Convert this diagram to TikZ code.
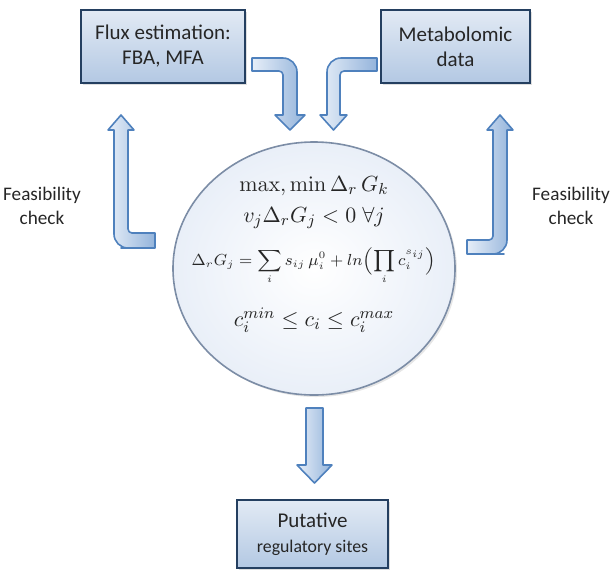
\documentclass[tikz,border=0pt]{standalone}
\usepackage[no-math]{fontspec}
\setmainfont{Carlito}
\usepackage{amsmath}
\usetikzlibrary{shapes.geometric, shadows, positioning}

\definecolor{boxedge}{HTML}{243F60}
\definecolor{boxtop}{HTML}{E2EAF4}
\definecolor{boxbot}{HTML}{B3C8E3}
\definecolor{arrowedge}{HTML}{4F81BD}
\definecolor{arrowlight}{HTML}{E6EEF8}
\definecolor{arrowdark}{HTML}{94B4DB}
\definecolor{cellrim}{HTML}{7C8DA6}
\definecolor{cellfill}{HTML}{E9EFF8}

\begin{document}
\begin{tikzpicture}[
    % one unit = one pixel of the sketch, y running down
    x=0.5pt, y=-0.5pt,
    source/.style={
        rectangle, draw=boxedge, line width=1.3pt,
        top color=boxtop, bottom color=boxbot,
        inner sep=2pt, align=center, text=black!85,
        drop shadow={opacity=0.25, shadow xshift=1pt, shadow yshift=-1pt},
        font=\fontsize{10.5}{12.5}\selectfont
    },
    fatarrow/.style={draw=arrowedge, line width=0.8pt, line join=round,
        left color=arrowlight, right color=arrowdark},
    eq/.style={inner sep=0pt, text=black!85},
    note/.style={align=center, text=black!85, font=\fontsize{9.6}{12}\selectfont}
]
  \useasboundingbox (0,0) rectangle (613,574);

  % Inputs
  \node[source, minimum width=82pt, minimum height=36.5pt] (flux) at (163,46.5) {Flux estimation:\\FBA, MFA};
  \node[source, minimum width=74.5pt, minimum height=36.5pt] (metab) at (455.5,46.5) {Metabolomic\\data};

  % Thermodynamic model
  \node[ellipse, draw=cellrim, line width=0.8pt, inner color=white, outer color=cellfill,
        minimum width=141pt, minimum height=126.5pt,
        drop shadow={opacity=0.2, shadow xshift=1pt, shadow yshift=-1pt}] (cell) at (314,268.5) {};
  \node[eq, font=\fontsize{11}{13}\selectfont] (obj) at (314,186) {$\max,\min\Delta_r\,G_k$};
  \node[eq, font=\fontsize{11}{13}\selectfont] (sign) at (314,218) {$v_j\Delta_rG_j<0\;\forall j$};
  \node[eq, font=\fontsize{7.6}{9}\selectfont] (gibbs) at (314,266) {$\displaystyle \Delta_rG_j=\sum_i s_{ij}\,\mu_i^0+ln\Bigl(\prod_i c_i^{s_{ij}}\Bigr)$};
  \node[eq, font=\fontsize{11}{13}\selectfont] (bounds) at (314,320) {$c_i^{min}\le c_i\le c_i^{max}$};

  % Output
  \node[source, minimum width=75.5pt, minimum height=34pt] (sites) at (312.5,534) {Putative\\{\fontsize{8.9}{11}\selectfont regulatory sites}};

  % Feasibility labels
  \node[note] (checkl) at (42,206) {Feasibility\\check};
  \node[note] (checkr) at (571,206) {Feasibility\\check};

  % Block arrows into the model
  \draw[fatarrow] (252,58) [rounded corners=7pt] -- (297,58) -- (297,100) [sharp corners] -- (297,115)
    -- (305,115) -- (290,130) -- (275,115) -- (283,115) -- (283,85) [rounded corners=2pt] -- (283,71)
    -- (268,71) [sharp corners] -- (252,71) -- cycle;
  \draw[fatarrow] (377,58) [rounded corners=7pt] -- (327,58) -- (327,100) [sharp corners] -- (327,115)
    -- (320,115) -- (333.5,130) -- (347,115) -- (340,115) -- (340,85) [rounded corners=2pt] -- (340,71)
    -- (355,71) [sharp corners] -- (377,71) -- cycle;

  % Feasibility checks back to the inputs
  \draw[fatarrow] (155,233) -- (140,233) [rounded corners=2pt] -- (128,233) -- (128,215) [sharp corners]
    -- (128,130) -- (134,130) -- (121,115) -- (108,130) -- (114,130) -- (114,200) [rounded corners=7pt]
    -- (114,248) -- (135,248) [sharp corners] -- (155,248) -- cycle;
  \draw[fatarrow] (467,240) -- (480,240) [rounded corners=2pt] -- (493,240) -- (493,222) [sharp corners]
    -- (493,130) -- (487,130) -- (500,115) -- (513,130) -- (507,130) -- (507,200) [rounded corners=7pt]
    -- (507,254) -- (490,254) [sharp corners] -- (467,254) -- cycle;

  % Block arrow to the output
  \draw[fatarrow] (306,408) -- (306,465) -- (297,465) -- (314.5,483) -- (332,465) -- (323,465) -- (323,408) -- cycle;

\end{tikzpicture}
\end{document}
